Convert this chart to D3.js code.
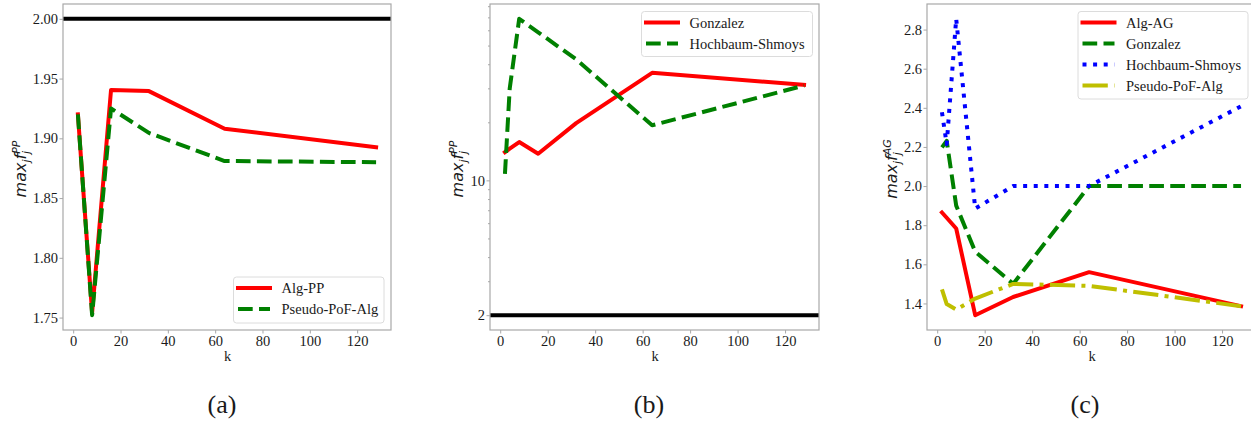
<!DOCTYPE html>
<html>
<head>
<meta charset="utf-8">
<script src="https://cdn.jsdelivr.net/npm/d3@7"></script>
<style>
  html, body { margin: 0; padding: 0; background: #ffffff; }
  svg { display: block; }
</style>
</head>
<body>
<svg id="chart" width="1251" height="424"></svg>
<script>
// ---------------- data ----------------
const K = [2, 4, 8, 16, 32, 64, 128];
const xTicks = [0, 20, 40, 60, 80, 100, 120];

// panel (a)
const algPP   = [1.920, 1.864, 1.754, 1.9405, 1.9395, 1.908, 1.8925];
const pseudoA = [1.920, 1.864, 1.752, 1.925, 1.9045, 1.881, 1.880];
const refA = 2.0;
const yTicksA = [1.75, 1.80, 1.85, 1.90, 1.95, 2.00];

// panel (b) (log scale)
const gonzB = [14.0, 14.6, 15.8, 13.75, 19.8, 36.1, 31.3];
const hsB   = [10.8, 29.9, 68.8, 58.6, 42.4, 19.3, 31.0];
const refB = 2;
const yTicksB = [2, 10];
const yMinorB = [3, 4, 5, 6, 7, 8, 9, 20, 30, 40, 50, 60, 70, 80];

// panel (c)
const algAG   = [1.865, 1.838, 1.783, 1.340, 1.433, 1.560, 1.386];
const gonzC   = [2.198, 2.231, 1.900, 1.665, 1.500, 2.000, 2.000];
const hsC     = [2.377, 2.214, 2.855, 1.885, 2.000, 2.000, 2.408];
const pseudoC = [1.472, 1.397, 1.369, 1.425, 1.500, 1.490, 1.386];
const yTicksC = [1.4, 1.6, 1.8, 2.0, 2.2, 2.4, 2.6, 2.8];

// ---------------- styles ----------------
const LW = 4;
const DASH = [14.7, 6.3];
const DOT = [4, 6.6];
const DASHDOT = [25.3, 6.3, 4, 6.3];
const SERIF = "'Liberation Serif', 'Times New Roman', serif";
const SPINE = "#a8a8a8";

const svg = d3.select("#chart");
const defs = svg.append("defs");

function panel(opts) {
  const { id, box, series, hline, log, yTicks, yMinor, yFmt, legend, legendBox, supText, caption, captionX } = opts;
  const g = svg.append("g");
  const [L, R, T, B] = box;

  // x scale with matplotlib 5% margins
  const xr = K[K.length - 1] - K[0];
  const x = d3.scaleLinear().domain([K[0] - 0.05 * xr, K[K.length - 1] + 0.05 * xr]).range([L, R]);

  // y scale from data
  let allY = [];
  series.forEach(s => allY = allY.concat(s.values));
  if (hline !== undefined) allY.push(hline);
  let y;
  if (log) {
    const lo = Math.log10(d3.min(allY)), hi = Math.log10(d3.max(allY));
    const m = 0.05 * (hi - lo);
    y = d3.scaleLog().domain([Math.pow(10, lo - m), Math.pow(10, hi + m)]).range([B, T]);
  } else {
    const lo = d3.min(allY), hi = d3.max(allY);
    const m = 0.05 * (hi - lo);
    y = d3.scaleLinear().domain([lo - m, hi + m]).range([B, T]);
  }

  defs.append("clipPath").attr("id", "clip" + id)
    .append("rect").attr("x", L).attr("y", T).attr("width", R - L).attr("height", B - T);

  const plot = g.append("g").attr("clip-path", `url(#clip${id})`);

  if (hline !== undefined) {
    plot.append("line")
      .attr("x1", L).attr("x2", R)
      .attr("y1", y(hline)).attr("y2", y(hline))
      .attr("stroke", "#000").attr("stroke-width", LW);
  }

  series.forEach(s => {
    const line = d3.line().x((d, i) => x(K[i])).y(d => y(d));
    plot.append("path")
      .attr("d", line(s.values))
      .attr("fill", "none")
      .attr("stroke", s.color)
      .attr("stroke-width", LW)
      .attr("stroke-linejoin", "round")
      .attr("stroke-linecap", s.dash ? "butt" : "square")
      .attr("stroke-dasharray", s.dash ? s.dash.join(",") : null);
  });

  // spines
  g.append("rect").attr("x", L).attr("y", T).attr("width", R - L).attr("height", B - T)
    .attr("fill", "none").attr("stroke", SPINE).attr("stroke-width", 1.2);

  // x axis
  const xa = g.append("g").attr("transform", `translate(0,${B})`)
    .call(d3.axisBottom(x).tickValues(xTicks).tickSize(3.5).tickPadding(2).tickFormat(d3.format("d")));
  xa.select(".domain").remove();
  xa.selectAll("line").attr("stroke", SPINE);
  xa.selectAll("text").attr("font-family", SERIF).attr("font-size", 14.5).attr("fill", "#1a1a1a");

  // y axis
  const ya = g.append("g").attr("transform", `translate(${L},0)`)
    .call(d3.axisLeft(y).tickValues(yTicks).tickSize(3.5).tickPadding(1.5).tickFormat(yFmt));
  ya.select(".domain").remove();
  ya.selectAll("line").attr("stroke", SPINE);
  ya.selectAll("text").attr("font-family", SERIF).attr("font-size", 14.5).attr("fill", "#1a1a1a");
  if (yMinor) {
    const ym = g.append("g").attr("transform", `translate(${L},0)`)
      .call(d3.axisLeft(y).tickValues(yMinor).tickSize(2).tickFormat(""));
    ym.select(".domain").remove();
    ym.selectAll("line").attr("stroke", SPINE);
  }

  // x label
  g.append("text").attr("x", (L + R) / 2 + 0.5).attr("y", B + 31)
    .attr("text-anchor", "middle").attr("font-family", SERIF).attr("font-size", 14.5)
    .attr("fill", "#1a1a1a").text("k");

  // y label (mathtext-like)
  const ylab = g.append("text")
    .attr("transform", `translate(${opts.yLabelX},${(T + B) / 2 + 2}) rotate(-90)`)
    .attr("text-anchor", "middle")
    .attr("font-family", "'DejaVu Sans', sans-serif")
    .attr("font-style", "italic")
    .attr("font-size", 16)
    .attr("fill", "#1a1a1a");
  ylab.append("tspan").text("max");
  ylab.append("tspan").attr("font-size", 11).attr("dy", 3.5).text("j");
  ylab.append("tspan").attr("dy", -3.5).text("f");
  ylab.append("tspan").attr("font-size", 11).attr("dy", 3.5).text("j");
  ylab.append("tspan").attr("font-size", 11).attr("dx", -3).attr("dy", -10).text(supText);

  // legend
  const [lx, ly, lw, lh] = legendBox;
  const lg = g.append("g");
  lg.append("rect").attr("x", lx).attr("y", ly).attr("width", lw).attr("height", lh)
    .attr("rx", 3).attr("fill", "#ffffff").attr("fill-opacity", 0.85)
    .attr("stroke", "#dcdcdc").attr("stroke-width", 1);
  legend.forEach((s, i) => {
    const cy = ly + 11 + i * 21;
    lg.append("line").attr("x1", lx + 4.5).attr("x2", lx + 36.5)
      .attr("y1", cy).attr("y2", cy)
      .attr("stroke", s.color).attr("stroke-width", LW)
      .attr("stroke-linecap", s.dash ? "butt" : "square")
      .attr("stroke-dasharray", s.dash ? s.dash.join(",") : null);
    lg.append("text").attr("x", lx + 48).attr("y", cy).attr("dy", "0.35em")
      .attr("font-family", SERIF).attr("font-size", 14.5).attr("fill", "#1a1a1a")
      .text(s.name);
  });

  // caption
  svg.append("text").attr("x", captionX).attr("y", 413)
    .attr("text-anchor", "middle").attr("font-family", SERIF).attr("font-size", 26)
    .attr("fill", "#1a1a1a").text(caption);
}

const sA = [
  { name: "Alg-PP", values: algPP, color: "#ff0000", dash: null },
  { name: "Pseudo-PoF-Alg", values: pseudoA, color: "#008000", dash: DASH }
];
panel({
  id: "a", box: [63, 391, 4, 330], series: sA, hline: refA, log: false,
  yTicks: yTicksA, yFmt: d3.format(".2f"), legend: sA,
  legendBox: [233.5, 277, 150.5, 46], supText: "PP", caption: "(a)", captionX: 222, yLabelX: 26
});

const sB = [
  { name: "Gonzalez", values: gonzB, color: "#ff0000", dash: null },
  { name: "Hochbaum-Shmoys", values: hsB, color: "#008000", dash: DASH }
];
panel({
  id: "b", box: [490, 819, 4, 330], series: sB, hline: refB, log: true,
  yTicks: yTicksB, yMinor: yMinorB, yFmt: d3.format("d"), legend: sB,
  legendBox: [641.5, 11.5, 171, 45], supText: "PP", caption: "(b)", captionX: 649, yLabelX: 463
});

const sC = [
  { name: "Alg-AG", values: algAG, color: "#ff0000", dash: null },
  { name: "Gonzalez", values: gonzC, color: "#008000", dash: DASH },
  { name: "Hochbaum-Shmoys", values: hsC, color: "#0000ff", dash: DOT },
  { name: "Pseudo-PoF-Alg", values: pseudoC, color: "#bfbf00", dash: DASHDOT }
];
panel({
  id: "c", box: [927, 1256, 4, 330], series: sC, log: false,
  yTicks: yTicksC, yFmt: d3.format(".1f"), legend: sC,
  legendBox: [1078, 11.5, 170, 87.5], supText: "AG", caption: "(c)", captionX: 1085, yLabelX: 897
});
</script>
</body>
</html>
